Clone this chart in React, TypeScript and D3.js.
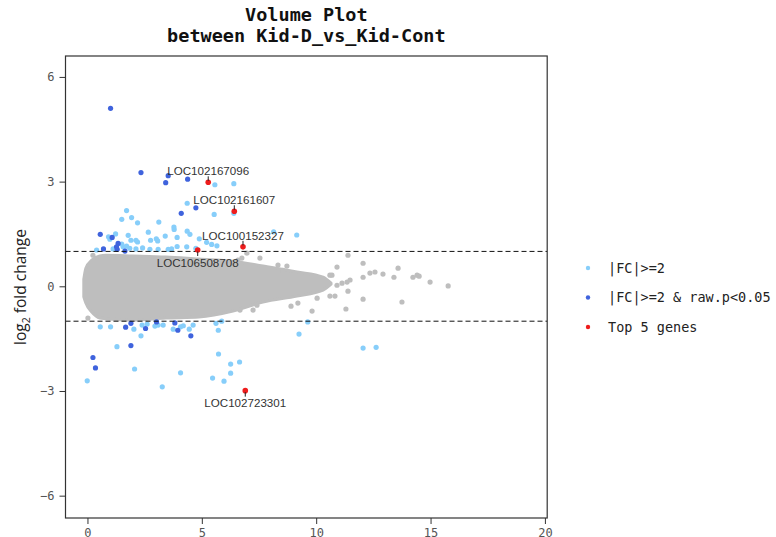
import { useEffect, useRef } from "react";
import * as d3 from "d3";

// dense grey cloud outline (x = mean expression, upper/lower log2FC)
const cloudX = [-0.16, -0.07, 0.19, 0.54, 0.8, 1.99, 3.43, 4.87, 6.36, 7.67, 9.16, 10.3, 10.65];
const cloudUpper = [0.2, 0.52, 0.75, 0.87, 0.89, 0.87, 0.84, 0.78, 0.72, 0.58, 0.41, 0.26, 0.09];
const cloudLower = [-0.3, -0.48, -0.74, -0.91, -0.93, -0.97, -0.91, -0.88, -0.71, -0.45, -0.28, -0.11, 0.06];

// scattered grey points outside the dense cloud
const greyX = [8.33, 8.72, 8.55, 10.91, 10.69, 11.39, 12.05, 12.35, 12.57, 12.92, 12.05, 13.4, 13.58, 14.23, 14.41, 14.5, 14.98, 15.77, 13.75, 12.05, 11.3, 9.82, 8.9, 9.2, 10.04, 10.6, 10.82, 11.39, 10.91, 11.13, 11.35, 11.48, 7.24, 7.41, 6.67, 10.6, 6.97, 6.58, 6.75, 0.24, 0.02, 7.54];
const greyY = [0.61, 0.58, 0.46, 0.55, 0.32, 0.89, 0.66, 0.38, 0.41, 0.35, 0.26, 0.26, 0.52, 0.26, 0.32, 0.29, 0.12, 0.01, -0.45, -0.37, -0.65, -0.71, -0.57, -0.48, -0.34, -0.28, -0.28, -0.14, 0.03, 0.09, 0.12, 0.18, -0.68, -0.54, -0.68, 0.32, 0.95, 0.75, 0.81, 0.89, -0.91, 0.81];

// |FC|>=2
const fcX = [5.57, 6.4, 4.36, 5.54, 6.4, 1.71, 1.5, 1.93, 2.19, 3.12, 3.78, 3.79, 2.66, 3.4, 4.36, 4.48, 1.23, 1.78, 0.98, 1.9, 2.12, 2.19, 2.76, 3.01, 3.07, 3.92, 4.89, 5.21, 5.43, 5.66, 8.14, 9.15, 0.4, 1.12, 1.56, 1.85, 2.12, 2.41, 2.73, 3.09, 3.53, 3.68, 3.92, 4.34, 4.74, 1.5, 1.71, 0.92,
  0.56, 1.01, 2.03, 2.39, 2.34, 2.61, 2.95, 3.09, 3.31, 3.75, 4.07, 4.19, 4.45, 4.62, 5.62, 5.87, 5.72, 9.25, 9.63, 1.29, 2.06, -0.01, 3.27, 4.07, 5.73, 6.26, 6.65, 6.26, 5.47, 5.97, 12.05, 12.62];
const fcY = [2.91, 2.94, 2.38, 2.06, 2.09, 2.17, 1.92, 1.97, 1.82, 1.84, 1.7, 1.63, 1.55, 1.44, 1.58, 1.49, 1.5, 1.46, 1.35, 1.32, 1.32, 1.27, 1.32, 1.36, 1.3, 1.4, 1.36, 1.26, 1.2, 1.16, 1.56, 1.47, 1.04, 1.07, 1.13, 1.09, 1.07, 1.1, 1.06, 1.06, 1.06, 1.07, 1.14, 1.13, 1.09, 1.21, 1.15, 1.42,
  -1.16, -1.16, -1.23, -1.11, -1.42, -1.08, -1.14, -1.11, -1.11, -1.23, -1.16, -1.13, -1.23, -1.11, -1.06, -1.0, -1.26, -1.37, -1.02, -1.73, -2.37, -2.71, -2.88, -2.48, -1.94, -2.23, -2.17, -2.49, -2.63, -2.72, -1.77, -1.75];

// |FC|>=2 & raw.p<0.05
const sigX = [1.01, 2.34, 3.53, 3.42, 4.38, 4.74, 4.1, 0.56, 1.08, 0.7, 1.34, 1.27, 1.3, 1.64, 1.67, 1.9, 2.54, 3.02, 3.82, 3.95, 4.52, 1.9, 0.24, 0.35];
const sigY = [5.1, 3.26, 3.17, 2.97, 3.07, 2.25, 2.09, 1.49, 1.4, 1.07, 1.23, 1.13, 1.06, 1.01, -1.17, -1.06, -1.21, -1.02, -1.05, -1.26, -1.42, -1.7, -2.04, -2.34];

// top 5 genes
const topGenes = ["LOC102167096", "LOC102161607", "LOC100152327", "LOC106508708", "LOC102723301"];
const topX = [5.28, 6.42, 6.8, 4.82, 6.9];
const topY = [2.98, 2.15, 1.13, 1.04, -2.99];
const labelSide = [-1, -1, -1, 1, 1]; // -1 above the point, 1 below

const xTicks = [0, 5, 10, 15, 20];
const yTicks = [-6, -3, 0, 3, 6];
const cutoffs = [-1, 1];

const legendLabels = ["|FC|>=2", "|FC|>=2 & raw.p<0.05", "Top 5 genes"];

const GREY = "#BEBEBE";
const LIGHT = "#87CEFA";
const BLUE = "#3F63DD";
const RED = "#EE1C1C";
const MONO = "'DejaVu Sans Mono', monospace";

const panel = { left: 65.5, right: 547.2, top: 56, bottom: 518 };

export default function App() {
  const xAxisRef = useRef<SVGGElement>(null);
  const yAxisRef = useRef<SVGGElement>(null);

  const x = d3.scaleLinear().domain([-0.96, 20.1]).range([panel.left, panel.right]);
  const y = d3.scaleLinear().domain([-6.64, 6.6]).range([panel.bottom, panel.top]);

  useEffect(() => {
    if (!xAxisRef.current || !yAxisRef.current) return;
    const styleAxis = (g: d3.Selection<SVGGElement, unknown, null, undefined>) => {
      g.select(".domain").remove();
      g.selectAll("line").attr("stroke", "#333");
      g.selectAll("text")
        .attr("fill", "#555")
        .style("font-family", MONO)
        .style("font-size", "12px");
    };
    d3.select(xAxisRef.current)
      .call(d3.axisBottom(x).tickValues(xTicks).tickSize(6).tickPadding(4).tickFormat(d3.format("d")))
      .call(styleAxis);
    d3.select(yAxisRef.current)
      .call(d3.axisLeft(y).tickValues(yTicks).tickSize(6).tickPadding(5).tickFormat(d3.format("d")))
      .call(styleAxis);
  }, []);

  const cloud = d3
    .area<number>()
    .x((_, i) => x(cloudX[i]))
    .y0((_, i) => y(cloudLower[i]))
    .y1((_, i) => y(cloudUpper[i]))
    .curve(d3.curveMonotoneX);

  const cx = (panel.left + panel.right) / 2;

  return (
    <svg
      width={776}
      height={537}
      style={{ position: "fixed", left: 0, top: 0, background: "#fff" }}
    >
      <text textAnchor="middle" fontFamily={MONO} fontWeight="bold" fontSize={18.5} fill="#111">
        <tspan x={cx} y={21}>Volume Plot</tspan>
        <tspan x={cx} y={42}>between Kid-D_vs_Kid-Cont</tspan>
      </text>

      <path
        d={cloud(cloudX) ?? ""}
        fill={GREY}
        stroke={GREY}
        strokeWidth={3}
        strokeLinejoin="round"
      />
      {greyX.map((v, i) => (
        <circle key={`g${i}`} cx={x(v)} cy={y(greyY[i])} r={2.6} fill={GREY} />
      ))}
      {fcX.map((v, i) => (
        <circle key={`f${i}`} cx={x(v)} cy={y(fcY[i])} r={2.6} fill={LIGHT} />
      ))}
      {sigX.map((v, i) => (
        <circle key={`s${i}`} cx={x(v)} cy={y(sigY[i])} r={2.6} fill={BLUE} />
      ))}

      {cutoffs.map((c) => (
        <line
          key={c}
          x1={panel.left}
          x2={panel.right}
          y1={y(c)}
          y2={y(c)}
          stroke="#111"
          strokeDasharray="5,3"
        />
      ))}

      {topX.map((v, i) => {
        const px = x(v);
        const py = y(topY[i]);
        const s = labelSide[i];
        return (
          <g key={topGenes[i]}>
            <circle cx={px} cy={py} r={2.8} fill={RED} />
            <line
              x1={px}
              x2={px}
              y1={py + s * 1.5}
              y2={py + s * 6}
              stroke="#222"
              strokeWidth={1}
            />
            <text
              x={px}
              y={s < 0 ? py - 7 : py + 16.5}
              textAnchor="middle"
              fontFamily="'Liberation Sans', Arial, sans-serif"
              fontSize={11.6}
              fill="#333"
            >
              {topGenes[i]}
            </text>
          </g>
        );
      })}

      <rect
        x={panel.left}
        y={panel.top}
        width={panel.right - panel.left}
        height={panel.bottom - panel.top}
        fill="none"
        stroke="#333"
        strokeWidth={1.2}
      />
      <g ref={xAxisRef} transform={`translate(0,${panel.bottom})`} />
      <g ref={yAxisRef} transform={`translate(${panel.left},0)`} />

      <text
        transform={`translate(26,${(panel.top + panel.bottom) / 2}) rotate(-90)`}
        textAnchor="middle"
        fontFamily="'Open Sans', sans-serif"
        fontSize={15.5}
        fill="#222"
      >
        log<tspan fontSize={10.5} dy={4}>2</tspan>
        <tspan dy={-4}> fold change</tspan>
      </text>

      {legendLabels.map((lab, i) => (
        <g key={lab} transform={`translate(588,${268 + i * 29.5})`}>
          <circle r={2.2} fill={[LIGHT, BLUE, RED][i]} />
          <text x={20} y={4.5} fontFamily={MONO} fontSize={13.5} fill="#222">
            {lab}
          </text>
        </g>
      ))}
    </svg>
  );
}
